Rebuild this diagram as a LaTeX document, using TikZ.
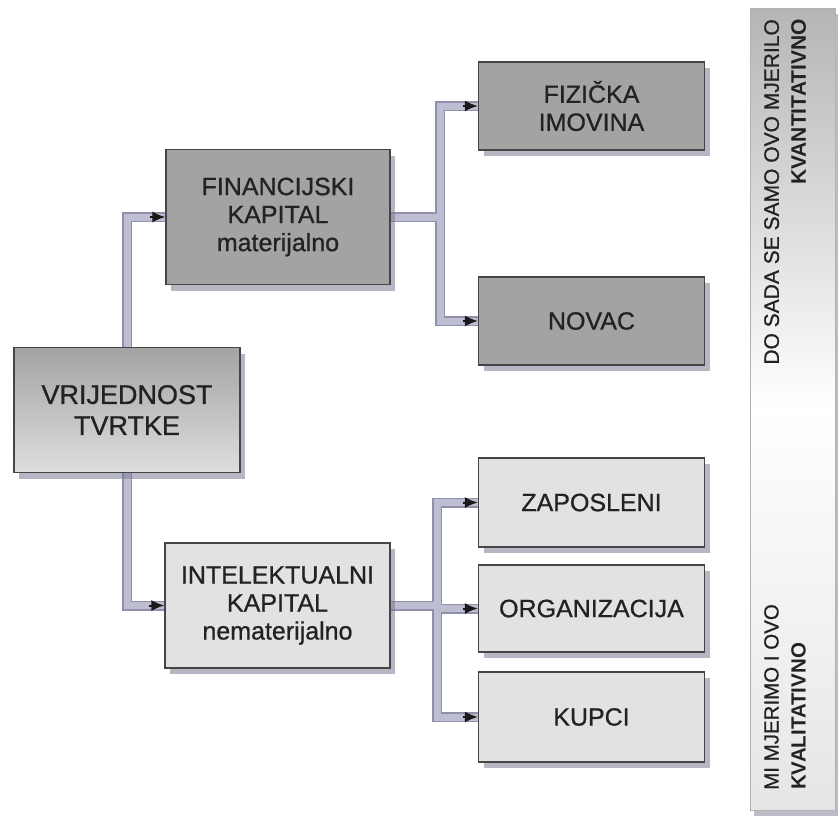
\documentclass[tikz,border=0pt]{standalone}
\usepackage{fontspec}
\setmainfont{Liberation Sans}
\newfontfamily\heavy{Liberation Sans}[FakeBold=0.8]
\usetikzlibrary{shadows,arrows.meta,calc}
\pgfdeclarelayer{bg}
\pgfsetlayers{bg,main}
\definecolor{darkbox}{HTML}{A3A3A3}
\definecolor{lightbox}{HTML}{E2E2E2}
\definecolor{boxline}{HTML}{454545}
\definecolor{txt}{HTML}{222222}
\definecolor{bandedge}{HTML}{9090AA}
\definecolor{bandfill}{HTML}{BEBED2}
\definecolor{shadowc}{HTML}{7A7A94}
\begin{document}
\begin{tikzpicture}[x=1pt,y=-1pt,
  box/.style={draw=boxline,line width=1.2pt,text=txt,align=center,inner sep=0pt,
    font=\heavy\fontsize{25}{28}\selectfont,
    drop shadow={shadow xshift=5pt,shadow yshift=-6pt,fill=shadowc,opacity=0.55}},
  darkb/.style={box,fill=darkbox},
  lightb/.style={box,fill=lightbox},
  rightbox/.style={minimum width=226pt},
  bandout/.style={draw=bandedge,line width=10pt,line cap=rect},
  bandin/.style={draw=bandfill,line width=7pt,line cap=rect},
  tip/.style={-{Latex[length=13pt,width=11pt]},line width=2pt,black!90},
  bartext/.style={rotate=90,inner sep=0pt,text=txt},
]
\useasboundingbox (0,0) rectangle (838,827);

% right bar
\node[draw=gray!60,line width=0.8pt,top color=gray!58,bottom color=gray!20,middle color=white,
      minimum width=85pt,minimum height=802pt,inner sep=0pt,
      drop shadow={shadow xshift=4pt,shadow yshift=-6pt,fill=shadowc,opacity=0.5}] (bar) at (792.5,409) {};
\node[bartext,anchor=north east,align=right,font=\fontsize{21}{27}\selectfont] (t1) at (764,19)
  {{\heavy DO SADA SE SAMO OVO MJERILO}\\\textbf{KVANTITATIVNO}};
\node[bartext,anchor=north west,align=left,font=\fontsize{20.5}{27}\selectfont] (t2) at (764,790)
  {{\heavy MI MJERIMO I OVO}\\\textbf{KVALITATIVNO}};

% boxes
\node[box,minimum width=226pt,minimum height=125pt,top color=gray!72,bottom color=gray!26,
      font=\heavy\fontsize{27}{31}\selectfont] (vr) at (127,410) {VRIJEDNOST\\TVRTKE};
\node[darkb,minimum width=224pt,minimum height=135pt] (fin) at (278,217) {FINANCIJSKI\\KAPITAL\\materijalno};
\node[lightb,minimum width=225pt,minimum height=125pt] (int) at (277.5,605.5) {INTELEKTUALNI\\KAPITAL\\nematerijalno};
\node[darkb,rightbox,minimum height=88pt] (fiz) at (591.5,106) {FIZIČKA\\IMOVINA};
\node[darkb,rightbox,minimum height=88pt] (nov) at (591.5,321) {NOVAC};
\node[lightb,rightbox,minimum height=89pt] (zap) at (591.5,502.5) {ZAPOSLENI};
\node[lightb,rightbox,minimum height=87pt] (org) at (591.5,608.5) {ORGANIZACIJA};
\node[lightb,rightbox,minimum height=90pt] (kup) at (591.5,717) {KUPCI};

\coordinate (b1) at (440,0);
\coordinate (b2) at (437,0);

% connectors (bands)
\begin{pgfonlayer}{bg}
\foreach \s in {bandout,bandin}{
  \draw[\s] (vr.north) |- (fin.west);
  \draw[\s] (vr.south) |- (int.west);
  \draw[\s] (fin.east) -- (fin.east -| b1);
  \draw[\s] (fiz.west -| b1) -- (nov.west -| b1);
  \draw[\s] (fiz.west -| b1) -- (fiz.west);
  \draw[\s] (nov.west -| b1) -- (nov.west);
  \draw[\s] (int.east) -- (int.east -| b2);
  \draw[\s] (zap.west -| b2) -- (kup.west -| b2);
  \draw[\s] (zap.west -| b2) -- (zap.west);
  \draw[\s] (org.west -| b2) -- (org.west);
  \draw[\s] (kup.west -| b2) -- (kup.west);
}
\end{pgfonlayer}

% arrow tips
\foreach \n in {fin,int,fiz,nov,zap,org,kup}{
  \draw[tip] ([xshift=-15pt]\n.west) -- (\n.west);
}
\end{tikzpicture}
\end{document}
